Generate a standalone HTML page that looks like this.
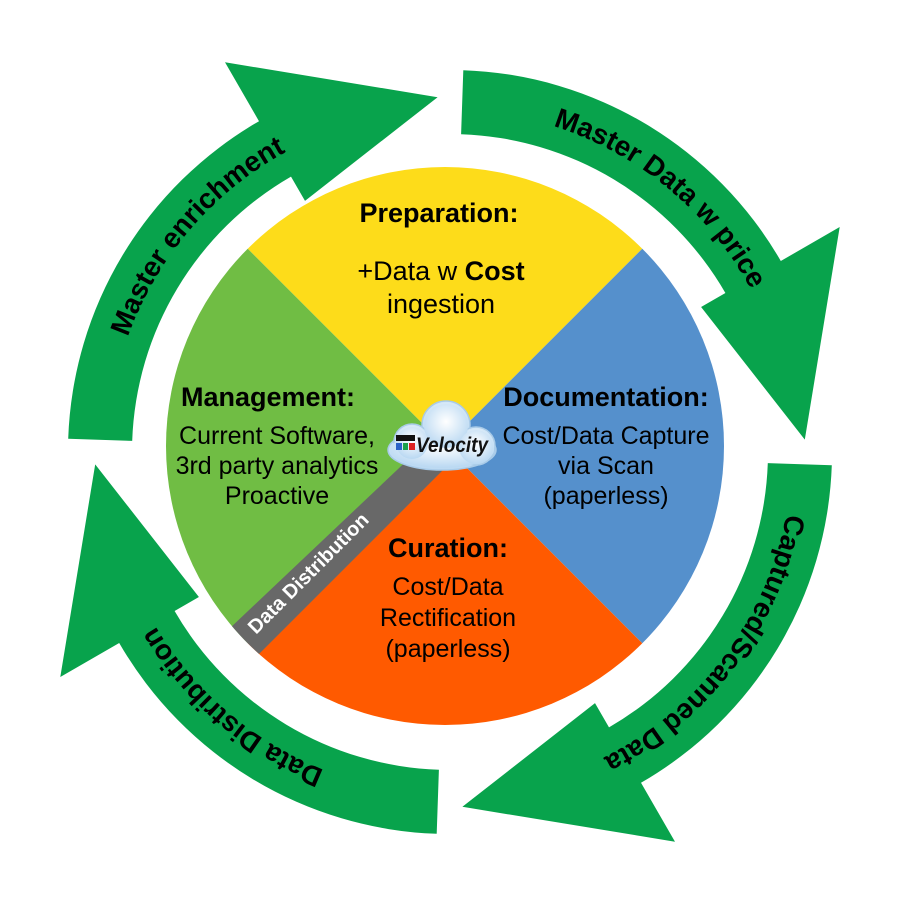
<!DOCTYPE html>
<html><head><meta charset="utf-8"><style>
html,body{margin:0;padding:0;background:#fff}
svg{display:block}
text{font-family:"Liberation Sans",sans-serif}
</style></head><body>
<svg width="904" height="904" viewBox="0 0 904 904" xmlns="http://www.w3.org/2000/svg">
<defs>
<path id="tp" d="M450 110 A342 342 0 0 1 792 452"/>
<clipPath id="cc"><circle cx="445" cy="446" r="279"/></clipPath>
<radialGradient id="cg" cx="50%" cy="40%" r="60%"><stop offset="0" stop-color="#ffffff"/><stop offset="1" stop-color="#b9d8f2"/></radialGradient>
</defs>
<g id="arrows" fill="#08a34c">
<g id="a0">
<path d="M463.3 70.2 A382 382 0 0 1 780.8 261 L839.7 227 L804.8 439.6 L701.1 307 L725.4 293 A318 318 0 0 0 461.1 134.2 Z"/>
</g>
<use href="#a0" transform="rotate(90 450 452)"/>
<use href="#a0" transform="rotate(180 450 452)"/>
<use href="#a0" transform="rotate(270 450 452)"/>
</g>
<g font-weight="bold" font-size="28" fill="#000">
<text><textPath href="#tp" startOffset="44%" text-anchor="middle">Master Data w price</textPath></text>
<g transform="rotate(90 450 452)"><text><textPath href="#tp" startOffset="41%" text-anchor="middle">Captured/Scanned Data</textPath></text></g>
<g transform="rotate(180 450 452)"><text><textPath href="#tp" startOffset="45%" text-anchor="middle">Data Distribution</textPath></text></g>
<g transform="rotate(270 450 452)"><text><textPath href="#tp" startOffset="45%" text-anchor="middle">Master enrichment</textPath></text></g>
</g>
<g clip-path="url(#cc)">
<polygon points="445,446 45,46 845,46" fill="#fddc1a"/>
<polygon points="445,446 845,46 845,846" fill="#5590cc"/>
<polygon points="445,446 845,846 45,846" fill="#ff5a00"/>
<polygon points="445,446 45,846 45,46" fill="#70bd44"/>
<polygon points="434,435 456,457 67,846 23,824" fill="#686868"/>
</g>
<text x="313" y="578" transform="rotate(-45 313 578)" text-anchor="middle" font-size="20" font-weight="bold" fill="#fff">Data Distribution</text>
<g font-size="25" text-anchor="middle" fill="#000">
<text x="439" y="222" font-weight="bold" font-size="27">Preparation:</text>
<text x="441" y="280" font-size="27">+Data w <tspan font-weight="bold">Cost</tspan></text>
<text x="441" y="313" font-size="27">ingestion</text>
<text x="268" y="406" font-weight="bold" font-size="27">Management:</text>
<text x="277" y="444">Current Software,</text>
<text x="277" y="474">3rd party analytics</text>
<text x="277" y="504">Proactive</text>
<text x="606" y="406" font-weight="bold" font-size="27">Documentation:</text>
<text x="606" y="444">Cost/Data Capture</text>
<text x="606" y="474">via Scan</text>
<text x="606" y="504">(paperless)</text>
<text x="448" y="557" font-weight="bold" font-size="27">Curation:</text>
<text x="448" y="595">Cost/Data</text>
<text x="448" y="626">Rectification</text>
<text x="448" y="657">(paperless)</text>
</g>
<g stroke="#a9cbe8" stroke-width="1.5" fill="url(#cg)">
<ellipse cx="442" cy="450" rx="54" ry="20"/>
<circle cx="446" cy="425" r="24"/>
<circle cx="412" cy="442" r="18"/>
<circle cx="476" cy="446" r="19"/>
</g>
<g fill="url(#cg)">
<ellipse cx="442" cy="450" rx="52" ry="18"/>
<circle cx="446" cy="426" r="22"/>
<circle cx="412" cy="443" r="16"/>
<circle cx="476" cy="447" r="17"/>
</g>
<rect x="396" y="435" width="19" height="6" fill="#111"/>
<rect x="396" y="443" width="6" height="7" fill="#2a62c8"/>
<rect x="403" y="443" width="5" height="7" fill="#1aa04a"/>
<rect x="409" y="443" width="6" height="7" fill="#d22"/>
<text x="416" y="452" font-size="21" font-weight="bold" font-style="italic" fill="#111" textLength="72" lengthAdjust="spacingAndGlyphs">Velocity</text>
</svg>
</body></html>
